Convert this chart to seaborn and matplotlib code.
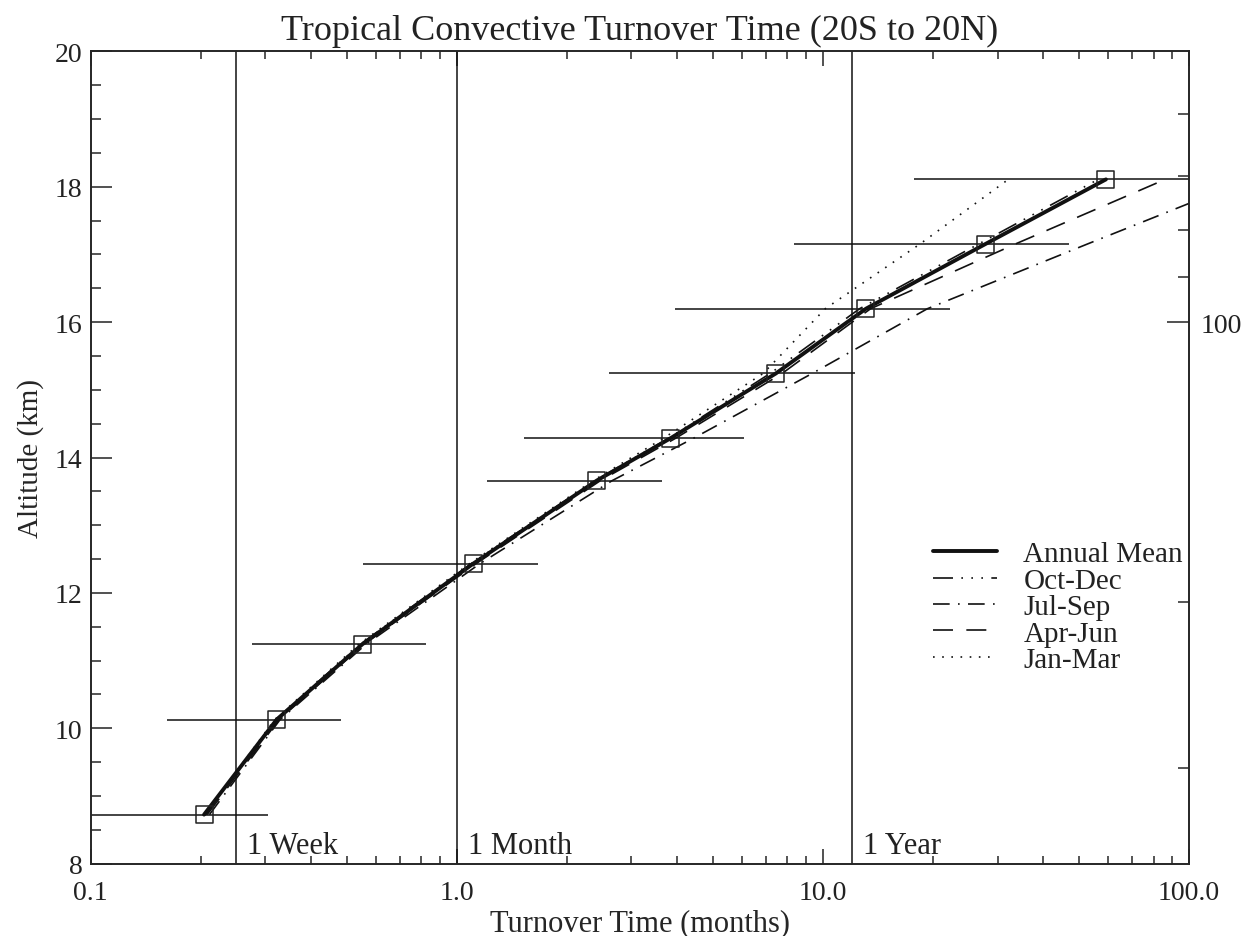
import numpy as np
import pandas as pd
import matplotlib
matplotlib.use("Agg")
import matplotlib.pyplot as plt
from matplotlib.ticker import FixedLocator, NullFormatter, FixedFormatter, LogLocator
from matplotlib.lines import Line2D
import seaborn as sns

# ---------------- data ----------------
altitude_km = [8.725, 10.128, 11.241, 12.434, 13.660, 14.281, 15.242, 16.198, 17.152, 18.108]
annual_mean = [0.204, 0.322, 0.552, 1.110, 2.413, 3.826, 7.44, 13.11, 27.76, 59.3]
annual_lo = [0.10, 0.1617, 0.276, 0.553, 1.210, 1.524, 2.60, 3.94, 8.33, 17.77]
annual_hi = [0.305, 0.482, 0.826, 1.662, 3.625, 6.095, 12.2, 22.2, 47.1, 100.5]
oct_dec = [0.206, 0.320, 0.545, 1.095, 2.39, 3.78, 7.18, 12.6, 26.6, 56.5]
jul_sep = [0.211, 0.329, 0.565, 1.158, 2.66, 4.42, 9.35, 19.3, 52.7, 146.0]
apr_jun = [0.208, 0.327, 0.558, 1.130, 2.47, 3.95, 7.74, 13.5, 33.5, 86.1]
jan_mar = [0.205, 0.318, 0.540, 1.085, 2.36, 3.66, 6.87, 10.15, 18.4, 32.1]

ref_times = [0.25, 1.0, 12.0]
ref_labels = ["1 Week", "1 Month", "1 Year"]

x_ticks = [0.1, 1.0, 10.0, 100.0]
x_ticklabels = ["0.1", "1.0", "10.0", "100.0"]
y_ticks = [8, 10, 12, 14, 16, 18, 20]
y_ticklabels = ["8", "10", "12", "14", "16", "18", "20"]

pressure_hpa = [300, 200, 100, 90, 80, 70, 60]
pressure_alt_km = [9.42, 11.86, 16.0, 16.66, 17.36, 18.16, 19.07]
pressure_labelled = [100]

# ---------------- style ----------------
sns.set_style("white")
plt.rcParams["font.family"] = ["Liberation Serif", "DejaVu Serif"]
plt.rcParams["axes.linewidth"] = 1.2
plt.rcParams["text.color"] = "#222222"

fig = plt.figure(figsize=(12.45, 9.37), dpi=100)
ax = fig.add_axes([90.7 / 1245, 1 - 864.7 / 937, (1189 - 90.7) / 1245, (864.7 - 52.3) / 937])

lw_thin = 1.2
styles = {
    "Annual Mean": dict(lw=2.8, ls="-"),
    "Oct-Dec": dict(lw=lw_thin, ls=(0, (12, 5, 1, 5, 1, 5, 1, 5))),
    "Jul-Sep": dict(lw=lw_thin, ls=(0, (10, 5, 1, 5))),
    "Apr-Jun": dict(lw=lw_thin, ls=(0, (12, 8))),
    "Jan-Mar": dict(lw=lw_thin, ls=(0, (1, 4.5))),
}
series = {
    "Oct-Dec": oct_dec,
    "Jul-Sep": jul_sep,
    "Apr-Jun": apr_jun,
    "Jan-Mar": jan_mar,
}

# vertical reference lines
for t, lab in zip(ref_times, ref_labels):
    ax.axvline(t, color="#111111", lw=1.1, zorder=1)
    ax.annotate(lab, xy=(t, 8), xytext=(8, 3), textcoords="offset points",
                fontsize=22, ha="left", va="bottom", color="#222222")

# error bars
ax.hlines(altitude_km, annual_lo, annual_hi, color="#111111", lw=1.1, zorder=2)

# seasonal lines
for name, vals in series.items():
    df = pd.DataFrame({"t": vals, "z": altitude_km})
    sns.lineplot(data=df, x="t", y="z", sort=False, estimator=None, ax=ax,
                 color="#111111", linewidth=styles[name]["lw"],
                 linestyle=styles[name]["ls"], zorder=3)

# annual mean
dfa = pd.DataFrame({"t": annual_mean, "z": altitude_km})
sns.lineplot(data=dfa, x="t", y="z", sort=False, estimator=None, ax=ax,
             color="#111111", linewidth=2.8, zorder=4)
sns.scatterplot(data=dfa, x="t", y="z", ax=ax, marker="s", s=150,
                facecolor="none", edgecolor="#222222", linewidth=1.1, zorder=5)

ax.set_xscale("log")
ax.set_xlim(0.1, 100)
ax.set_ylim(8, 20)

ax.xaxis.set_major_locator(FixedLocator(x_ticks))
ax.xaxis.set_major_formatter(FixedFormatter(x_ticklabels))
ax.xaxis.set_minor_locator(LogLocator(base=10, subs=np.arange(2, 10)))
ax.xaxis.set_minor_formatter(NullFormatter())
ax.yaxis.set_major_locator(FixedLocator(y_ticks))
ax.yaxis.set_major_formatter(FixedFormatter(y_ticklabels))
ax.yaxis.set_minor_locator(FixedLocator(np.arange(8, 20.01, 0.5)))

ax.tick_params(axis="x", which="major", direction="in", length=11, width=1.1,
               top=True, bottom=True, labelsize=20, pad=12, colors="#222222")
ax.tick_params(axis="x", which="minor", direction="in", length=5.5, width=1.1,
               top=True, bottom=True)
ax.tick_params(axis="y", which="major", direction="in", length=15, width=1.1,
               left=True, right=False, labelsize=20, pad=6, colors="#222222")
ax.tick_params(axis="y", which="minor", direction="in", length=7.5, width=1.1,
               left=True, right=False)

ax.set_xlabel("Turnover Time (months)", fontsize=22, labelpad=2)
ax.set_ylabel("Altitude (km)", fontsize=21, labelpad=8)
ax.set_title("Tropical Convective Turnover Time (20S to 20N)", fontsize=26, pad=9)

for sp in ax.spines.values():
    sp.set_color("#222222")

# right pressure axis
ax2 = ax.twinx()
ax2.set_ylim(8, 20)
maj_alt = [a for p, a in zip(pressure_hpa, pressure_alt_km) if p in pressure_labelled]
maj_lab = [str(p) for p in pressure_hpa if p in pressure_labelled]
min_alt = [a for p, a in zip(pressure_hpa, pressure_alt_km) if p not in pressure_labelled]
ax2.yaxis.set_major_locator(FixedLocator(maj_alt))
ax2.yaxis.set_major_formatter(FixedFormatter(maj_lab))
ax2.yaxis.set_minor_locator(FixedLocator(min_alt))
ax2.tick_params(axis="y", which="major", direction="in", length=16, width=1.1,
                labelsize=20, pad=8, colors="#222222")
ax2.tick_params(axis="y", which="minor", direction="in", length=8, width=1.1)
ax2.grid(False)
ax.grid(False)

# legend
labels = ["Annual Mean", "Oct-Dec", "Jul-Sep", "Apr-Jun", "Jan-Mar"]
handles = [Line2D([0], [0], color="#111111", lw=styles[n]["lw"], ls=styles[n]["ls"])
           for n in labels]
ax.legend(handles, labels, loc="upper left", bbox_to_anchor=(933 / 1245, 1 - 542 / 937),
          bbox_transform=fig.transFigure, frameon=False, fontsize=21,
          handlelength=2.2, handletextpad=0.9, labelspacing=0.0,
          borderpad=0, borderaxespad=0)

fig.savefig("out.png", dpi=100)
